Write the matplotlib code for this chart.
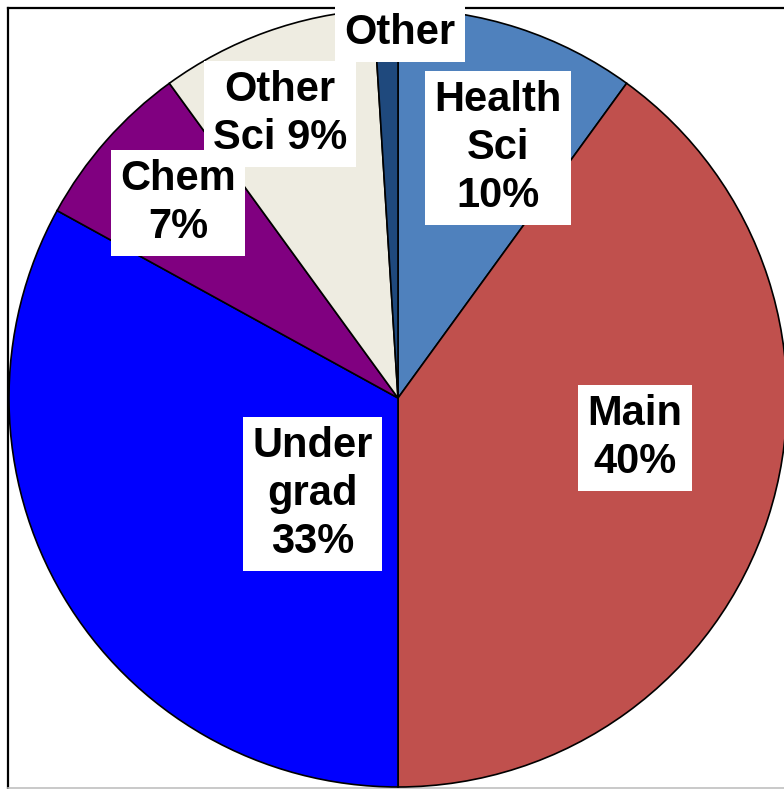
import numpy as np
import matplotlib.pyplot as plt

plt.rcParams['font.family'] = ['Liberation Sans', 'DejaVu Sans']

# datos del grafico
categorias = ['Health Sci', 'Main', 'Undergrad', 'Chem', 'Other Sci', 'Other']
valores = [10, 40, 33, 7, 9, 1]
etiquetas = ['Health\nSci\n10%', 'Main\n40%', 'Under\ngrad\n33%', 'Chem\n7%', 'Other\nSci 9%', 'Other']
colores = ['#4F81BD', '#C0504D', '#0000FF', '#800080', '#EEECE1', '#1F497D']

# posiciones de etiquetas (en radios del pastel)
pos_etiquetas = [(0.257, 0.643), (0.609, -0.103), (-0.219, -0.247),
                 (-0.566, 0.501), (-0.303, 0.730), (0.005, 0.938)]

W, H = 784, 789
cx, cy, r = 398, 398, 389

fig = plt.figure(figsize=(W / 100, H / 100), dpi=100)
ax = fig.add_axes([0, 0, 1, 1])

ax.pie(valores, colors=colores, startangle=90, counterclock=False, radius=1,
       wedgeprops=dict(edgecolor='black', linewidth=1.2))

ax.set_xlim(-cx / r, (W - cx) / r)
ax.set_ylim(-(H - cy) / r, cy / r)
ax.set_aspect('auto')
ax.axis('off')

# marco
x0 = (8.5 - cx) / r
y0 = (cy - 8.5) / r
ax.plot([x0, x0], [-(H - cy) / r, y0], color='black', lw=1.6, zorder=0.5, clip_on=False)
ax.plot([x0, (W - cx) / r], [y0, y0], color='black', lw=1.6, zorder=0.5, clip_on=False)
ax.plot([x0, (W - cx) / r], [-(H - 1 - cy) / r] * 2, color='#c0c0c0', lw=1.2, zorder=0.5, clip_on=False)

for txt, (x, y) in zip(etiquetas, pos_etiquetas):
    ax.text(x, y, txt, ha='center', va='center', fontsize=30, fontweight='bold',
            linespacing=1.26, zorder=5,
            bbox=dict(facecolor='white', edgecolor='none', boxstyle='square,pad=0.22'))

fig.savefig('out.png', dpi=100)
